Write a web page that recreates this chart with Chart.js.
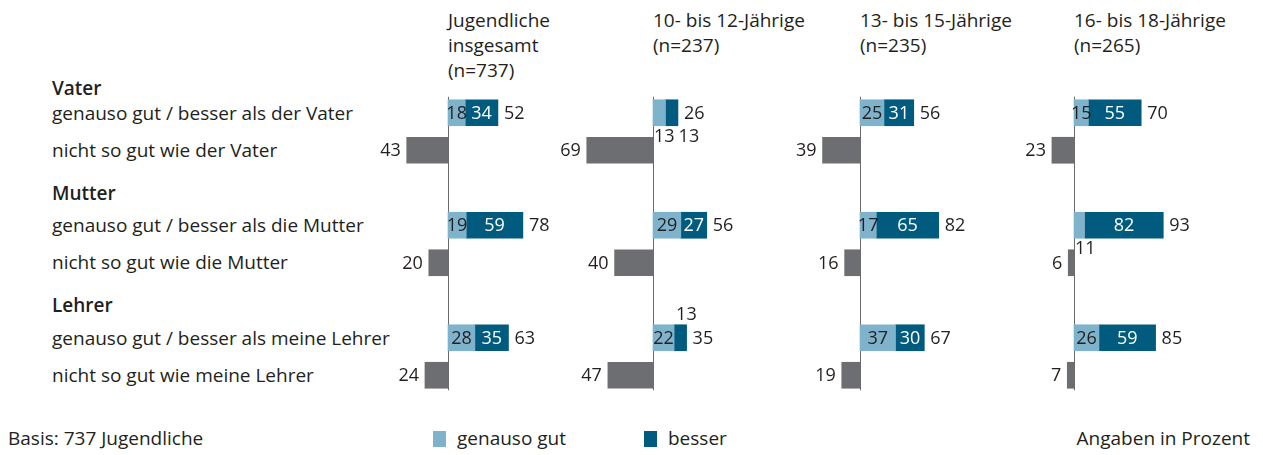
<!DOCTYPE html>
<html>
<head>
<meta charset="utf-8">
<script src="https://cdn.jsdelivr.net/npm/chart.js@4.4.0/dist/chart.umd.min.js"></script>
<style>
  body { margin: 0; background: #fff; width: 1263px; height: 455px; position: relative; overflow: hidden;
         font-family: "Open Sans", sans-serif; color: #231f20; }
  .t { position: absolute; white-space: nowrap; font-size: 19px; line-height: 25px; }
  .b { font-weight: 600; }
  canvas { position: absolute; }
  .sq { position: absolute; width: 13px; height: 16px; }
</style>
</head>
<body>
<script>
// --- DATA ---
const panelTitles = [
  ['Jugendliche', 'insgesamt', '(n=737)'],
  ['10- bis 12-Jährige', '(n=237)'],
  ['13- bis 15-Jährige', '(n=235)'],
  ['16- bis 18-Jährige', '(n=265)']
];
const groups = ['Vater', 'Mutter', 'Lehrer'];
const rowLabels = [
  'genauso gut / besser als der Vater', 'nicht so gut wie der Vater',
  'genauso gut / besser als die Mutter', 'nicht so gut wie die Mutter',
  'genauso gut / besser als meine Lehrer', 'nicht so gut wie meine Lehrer'
];
// one inner array per panel, values for Vater, Mutter, Lehrer
const genausoGut = [[18, 19, 28], [13, 29, 22], [25, 17, 37], [15, 11, 26]];
const besser     = [[34, 59, 35], [13, 27, 13], [31, 65, 30], [55, 82, 59]];
const gesamt     = [[52, 78, 63], [26, 56, 35], [56, 82, 67], [70, 93, 85]];
const nichtSoGut = [[43, 20, 24], [69, 40, 47], [39, 16, 19], [23, 6, 7]];

// --- LAYOUT / STYLE ---
const panelZero = [448, 653, 860, 1074];   // x of the zero line per panel
const pxPerUnit = 0.96;
const xMin = -100, xMax = 125;
const chartTop = 94, chartHeight = 300;
const colGenauso = '#7fb3cc', colBesser = '#005b7f', colNicht = '#6d6e71', colText = '#231f20';
const rowCenters = [113, 150, 225, 262, 338, 375];
const groupCenters = [88, 193, 305];
const smallLabelAbove = [false, false, true];  // where labels of thin segments go, per group
const labelFont = '18px "Open Sans", sans-serif';

function addText(txt, x, yCenter, cls, right) {
  const d = document.createElement('div');
  d.className = 't ' + (cls || '');
  d.textContent = txt;
  d.style.top = (yCenter - 12.5) + 'px';
  if (right) d.style.right = (1263 - x) + 'px'; else d.style.left = x + 'px';
  document.body.appendChild(d);
}

// left side labels
groups.forEach((g, k) => addText(g, 52, groupCenters[k], 'b'));
rowLabels.forEach((r, i) => addText(r, 52, rowCenters[i]));
// panel titles
panelTitles.forEach((lines, p) => lines.forEach((l, j) => addText(l, panelZero[p], 20 + j * 25)));
// footer
addText('Basis: 737 Jugendliche', 8, 438);
addText('Angaben in Prozent', 1250, 438, '', true);
addText('genauso gut', 457, 438);
addText('besser', 668, 438);
[[433, colGenauso], [644, colBesser]].forEach(([x, c]) => {
  const s = document.createElement('div');
  s.className = 'sq'; s.style.left = x + 'px'; s.style.top = '431px'; s.style.background = c;
  document.body.appendChild(s);
});

// 8 category slots: row, row, gap, row, row, gap, row, row
const slots = ['v1', 'v2', '', 'm1', 'm2', ' ', 'l1', 'l2'];
function toSlots(vals, offset, sign) {
  const out = new Array(8).fill(null);
  vals.forEach((v, k) => { out[k * 3 + offset] = sign * v; });
  return out;
}

const zeroLinePlugin = {
  id: 'zeroLine',
  beforeDatasetsDraw(chart) {
    const { ctx, scales: { x, y } } = chart;
    const px = Math.round(x.getPixelForValue(0)) + 0.5;
    ctx.save();
    ctx.strokeStyle = '#6a6a6a';
    ctx.lineWidth = 1;
    ctx.beginPath();
    ctx.moveTo(px, y.getPixelForValue(0) - 16);
    ctx.lineTo(px, y.getPixelForValue(7) + 15);
    ctx.stroke();
    ctx.restore();
  }
};

const valueLabelPlugin = {
  id: 'valueLabels',
  afterDatasetsDraw(chart, args, opts) {
    const p = opts.panel;
    const ctx = chart.ctx;
    const gEl = chart.getDatasetMeta(0).data;
    const bEl = chart.getDatasetMeta(1).data;
    const nEl = chart.getDatasetMeta(2).data;
    ctx.save();
    ctx.font = labelFont;
    ctx.textBaseline = 'middle';
    const put = (txt, x, y, align, color) => {
      ctx.textAlign = align; ctx.fillStyle = color; ctx.fillText(txt, x, y);
    };
    groups.forEach((g, k) => {
      const ge = gEl[k * 3], be = bEl[k * 3], ne = nEl[k * 3 + 1];
      const half = ge.height / 2;
      const offY = smallLabelAbove[k] ? -half - 10 : half + 11;
      const gv = genausoGut[p][k], bv = besser[p][k];
      let outsideEnd = -Infinity;
      if (gv >= 14) put(String(gv), (ge.base + ge.x) / 2, ge.y + 1, 'center', colText);
      else {
        put(String(gv), ge.base + 1, ge.y + offY, 'left', colText);
        outsideEnd = ge.base + 1 + ctx.measureText(String(gv)).width;
      }
      if (bv >= 14) put(String(bv), (be.base + be.x) / 2, be.y + 1, 'center', '#ffffff');
      else put(String(bv), Math.max(be.base + 2, outsideEnd + 4), be.y + offY, 'left', colText);
      put(String(gesamt[p][k]), be.x + 6, be.y + 1, 'left', colText);
      put(String(nichtSoGut[p][k]), ne.x - 6, ne.y + 1, 'right', colText);
    });
    ctx.restore();
  }
};

panelZero.forEach((zero, p) => {
  const cv = document.createElement('canvas');
  const w = Math.round((xMax - xMin) * pxPerUnit);
  cv.width = w; cv.height = chartHeight;
  cv.style.left = Math.round(zero + xMin * pxPerUnit) + 'px';
  cv.style.top = chartTop + 'px';
  document.body.appendChild(cv);
  new Chart(cv, {
    type: 'bar',
    data: {
      labels: slots,
      datasets: [
        { label: 'genauso gut', data: toSlots(genausoGut[p], 0, 1), backgroundColor: colGenauso },
        { label: 'besser', data: toSlots(besser[p], 0, 1), backgroundColor: colBesser },
        { label: 'nicht so gut', data: toSlots(nichtSoGut[p], 1, -1), backgroundColor: colNicht }
      ]
    },
    options: {
      indexAxis: 'y',
      responsive: false,
      animation: false,
      devicePixelRatio: 1,
      datasets: { bar: { barThickness: 26, borderWidth: 0, borderSkipped: false } },
      layout: { padding: 0 },
      scales: {
        x: { display: false, stacked: true, min: xMin, max: xMax },
        y: { display: false, stacked: true }
      },
      plugins: {
        legend: { display: false },
        tooltip: { enabled: false },
        valueLabels: { panel: p }
      }
    },
    plugins: [zeroLinePlugin, valueLabelPlugin]
  });
});
</script>
</body>
</html>
